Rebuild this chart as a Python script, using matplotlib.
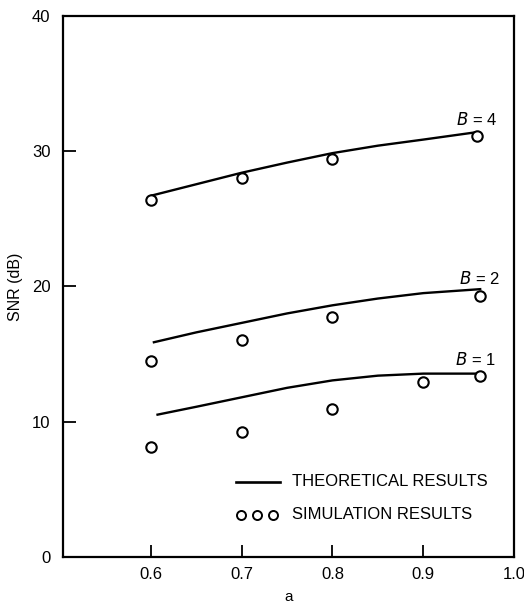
import numpy as np
import matplotlib
matplotlib.use('Agg')
import matplotlib.pyplot as plt

plt.rcParams['font.family'] = ['Liberation Sans', 'DejaVu Sans']

# theoretical curves (a vs SNR dB)
a_th_b4 = [0.6, 0.65, 0.7, 0.75, 0.8, 0.85, 0.9, 0.959]
snr_th_b4 = [26.7, 27.55, 28.4, 29.15, 29.85, 30.4, 30.85, 31.4]
a_th_b2 = [0.602, 0.65, 0.7, 0.75, 0.8, 0.85, 0.9, 0.964]
snr_th_b2 = [15.85, 16.6, 17.3, 18.0, 18.6, 19.1, 19.5, 19.8]
a_th_b1 = [0.606, 0.65, 0.7, 0.75, 0.8, 0.85, 0.9, 0.963]
snr_th_b1 = [10.5, 11.1, 11.8, 12.5, 13.05, 13.4, 13.55, 13.55]

# simulation points
a_sim_b4 = [0.6, 0.7, 0.8, 0.959]
snr_sim_b4 = [26.35, 28.0, 29.45, 31.1]
a_sim_b2 = [0.6, 0.7, 0.8, 0.963]
snr_sim_b2 = [14.45, 16.05, 17.7, 19.3]
a_sim_b1 = [0.6, 0.7, 0.8, 0.9, 0.962]
snr_sim_b1 = [8.1, 9.27, 10.9, 12.9, 13.35]

xticks = [0.6, 0.7, 0.8, 0.9, 1.0]
yticks = [0, 10, 20, 30, 40]

fig = plt.figure(figsize=(5.24, 6.08), dpi=100)
ax = fig.add_axes([0.120, 0.084, 0.861, 0.890])

for xs, ys in [(a_th_b4, snr_th_b4), (a_th_b2, snr_th_b2), (a_th_b1, snr_th_b1)]:
    ax.plot(xs, ys, color='black', lw=1.7, solid_capstyle='butt', solid_joinstyle='round')

for xs, ys in [(a_sim_b4, snr_sim_b4), (a_sim_b2, snr_sim_b2), (a_sim_b1, snr_sim_b1)]:
    ax.plot(xs, ys, 'o', ms=7.5, mfc='white', mec='black', mew=1.5, ls='none')

# curve labels
ax.text(0.959, 32.3, r'$B$ = 4', fontsize=12, ha='center', va='center')
ax.text(0.962, 20.6, r'$B$ = 2', fontsize=12, ha='center', va='center')
ax.text(0.957, 14.6, r'$B$ = 1', fontsize=12, ha='center', va='center')

# legend drawn by hand like the original
ax.plot([0.694, 0.742], [5.55, 5.55], color='black', lw=1.9)
ax.plot([0.699, 0.7165, 0.734], [3.1, 3.1, 3.1], 'o', ms=6.5, mfc='white', mec='black', mew=1.4)
ax.text(0.7555, 5.55, 'THEORETICAL RESULTS', fontsize=12, va='center')
ax.text(0.7555, 3.1, 'SIMULATION RESULTS', fontsize=12, va='center')

ax.set_xlim(0.503, 1.0)
ax.set_ylim(0, 40)
ax.set_xticks(xticks)
ax.set_xticklabels(['0.6', '0.7', '0.8', '0.9', '1.0'])
ax.set_yticks(yticks)
ax.tick_params(axis='both', direction='in', length=9, width=1.3, labelsize=12)
ax.tick_params(axis='y', pad=9)
ax.tick_params(axis='x', pad=7)
for s in ax.spines.values():
    s.set_linewidth(1.6)

ax.set_ylabel('SNR (dB)', fontsize=11.5, labelpad=6)
ax.set_xlabel('a', fontsize=11, labelpad=6)

fig.savefig('out.png', dpi=100)
